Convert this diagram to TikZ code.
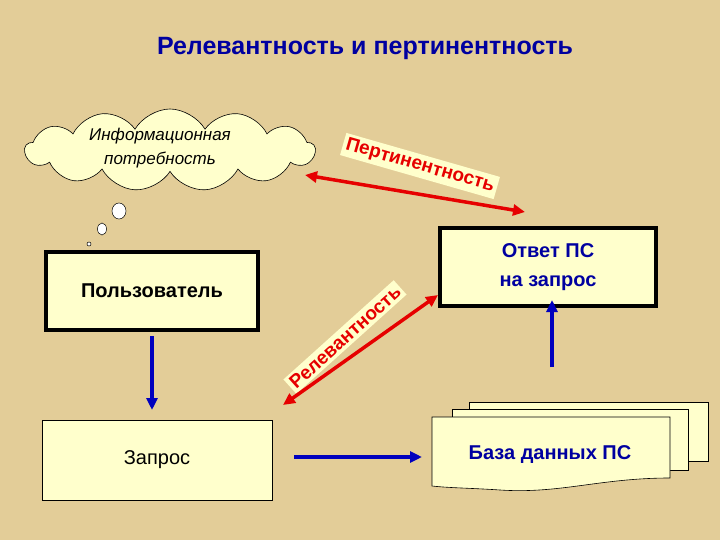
\documentclass[tikz,border=0pt]{standalone}
\usepackage{fontspec}
\setmainfont{Liberation Sans}
\usetikzlibrary{shapes.symbols,shapes.geometric,arrows.meta}
\definecolor{bg}{RGB}{227,205,152}
\definecolor{paper}{RGB}{255,255,204}
\definecolor{tblue}{RGB}{0,0,160}
\definecolor{ablue}{RGB}{0,0,190}
\definecolor{tred}{RGB}{230,0,0}
\begin{document}
\begin{tikzpicture}[x=1pt,y=-1pt,
  thickbox/.style={draw=black,line width=4.5pt,fill=paper,inner sep=0pt},
  blarrow/.style={draw=ablue,line width=3.5pt,-{Triangle[length=12pt,width=11pt]}},
  redarrow/.style={draw=tred,line width=3.5pt,{Triangle[length=12pt,width=11pt]}-{Triangle[length=12pt,width=11pt]}},
  redlabel/.style={fill=paper,text=tred,font=\bfseries\fontsize{19}{22}\selectfont,inner sep=3pt},
  doc/.style={draw=black,line width=0.6pt,fill=paper}]
\useasboundingbox[fill=bg] (0,0) rectangle (720,540);
\node (title) at (365,48) {\textcolor{tblue}{\bfseries\fontsize{25}{30}\selectfont Релевантность и пертинентность}};
% cloud
\node[cloud,cloud puffs=13,cloud puff arc=120,aspect=3.2,draw=black,line width=0.6pt,fill=paper,minimum width=290pt,minimum height=82pt] (cloud) at (170,150) {};
\node[align=center,font=\itshape\fontsize{17}{24}\selectfont] (cloudtxt) at (160,148) {Информационная\\потребность};
\node[ellipse,draw=black,line width=0.5pt,fill=white,minimum width=14pt,minimum height=16pt,inner sep=0pt] (b1) at (119,211) {};
\node[ellipse,draw=black,line width=0.5pt,fill=white,minimum width=9pt,minimum height=12pt,inner sep=0pt] (b2) at (102,229) {};
\node[circle,draw=black,line width=0.5pt,fill=white,minimum size=4pt,inner sep=0pt] (b3) at (89,244) {};
% boxes
\node[thickbox,minimum width=212pt,minimum height=78pt,font=\bfseries\fontsize{20}{24}\selectfont] (user) at (152,291) {Пользователь};
\node[thickbox,minimum width=216pt,minimum height=78pt,align=center,text=tblue,font=\bfseries\fontsize{20}{29}\selectfont] (answer) at (548,267) {Ответ ПС\\на запрос};
\node[draw=black,line width=0.6pt,fill=paper,minimum width=230pt,minimum height=80pt,font=\fontsize{20}{24}\selectfont] (query) at (157,460) {Запрос};
% documents
\draw[doc] (469,402) rectangle (708,461);
\draw[doc] (452,409) rectangle (688,470);
\draw[doc] (432,417) -- (670,417) -- (670,478) .. controls (600,478) and (560,494) .. (500,490) .. controls (470,488) and (450,488) .. (432,486) -- cycle;
\node[text=tblue,font=\bfseries\fontsize{20}{24}\selectfont] (db) at (550,455) {База данных ПС};
\coordinate (dbtop) at (552,367);
\coordinate (anstarget) at (552,300);
\coordinate (qright) at (294,457);
\coordinate (dbleft) at (422,457);
\coordinate (userbot) at (152,336);
\coordinate (querytop) at (152,410);
% blue arrows
\draw[blarrow] (userbot) -- (querytop);
\draw[blarrow] (qright) -- (dbleft);
\draw[blarrow] (dbtop) -- (anstarget);
% red arrows
\coordinate (p1) at (305,175);
\coordinate (p2) at (525,212);
\node[redlabel,rotate=-16] (pert) at (420,166) {Пертинентность};
\draw[redarrow] (p1) -- (p2);
\coordinate (r1) at (283,405);
\coordinate (r2) at (438,295);
\node[redlabel,rotate=42] (rel) at (345,337) {Релевантность};
\draw[redarrow] (r1) -- (r2);
\end{tikzpicture}
\end{document}
